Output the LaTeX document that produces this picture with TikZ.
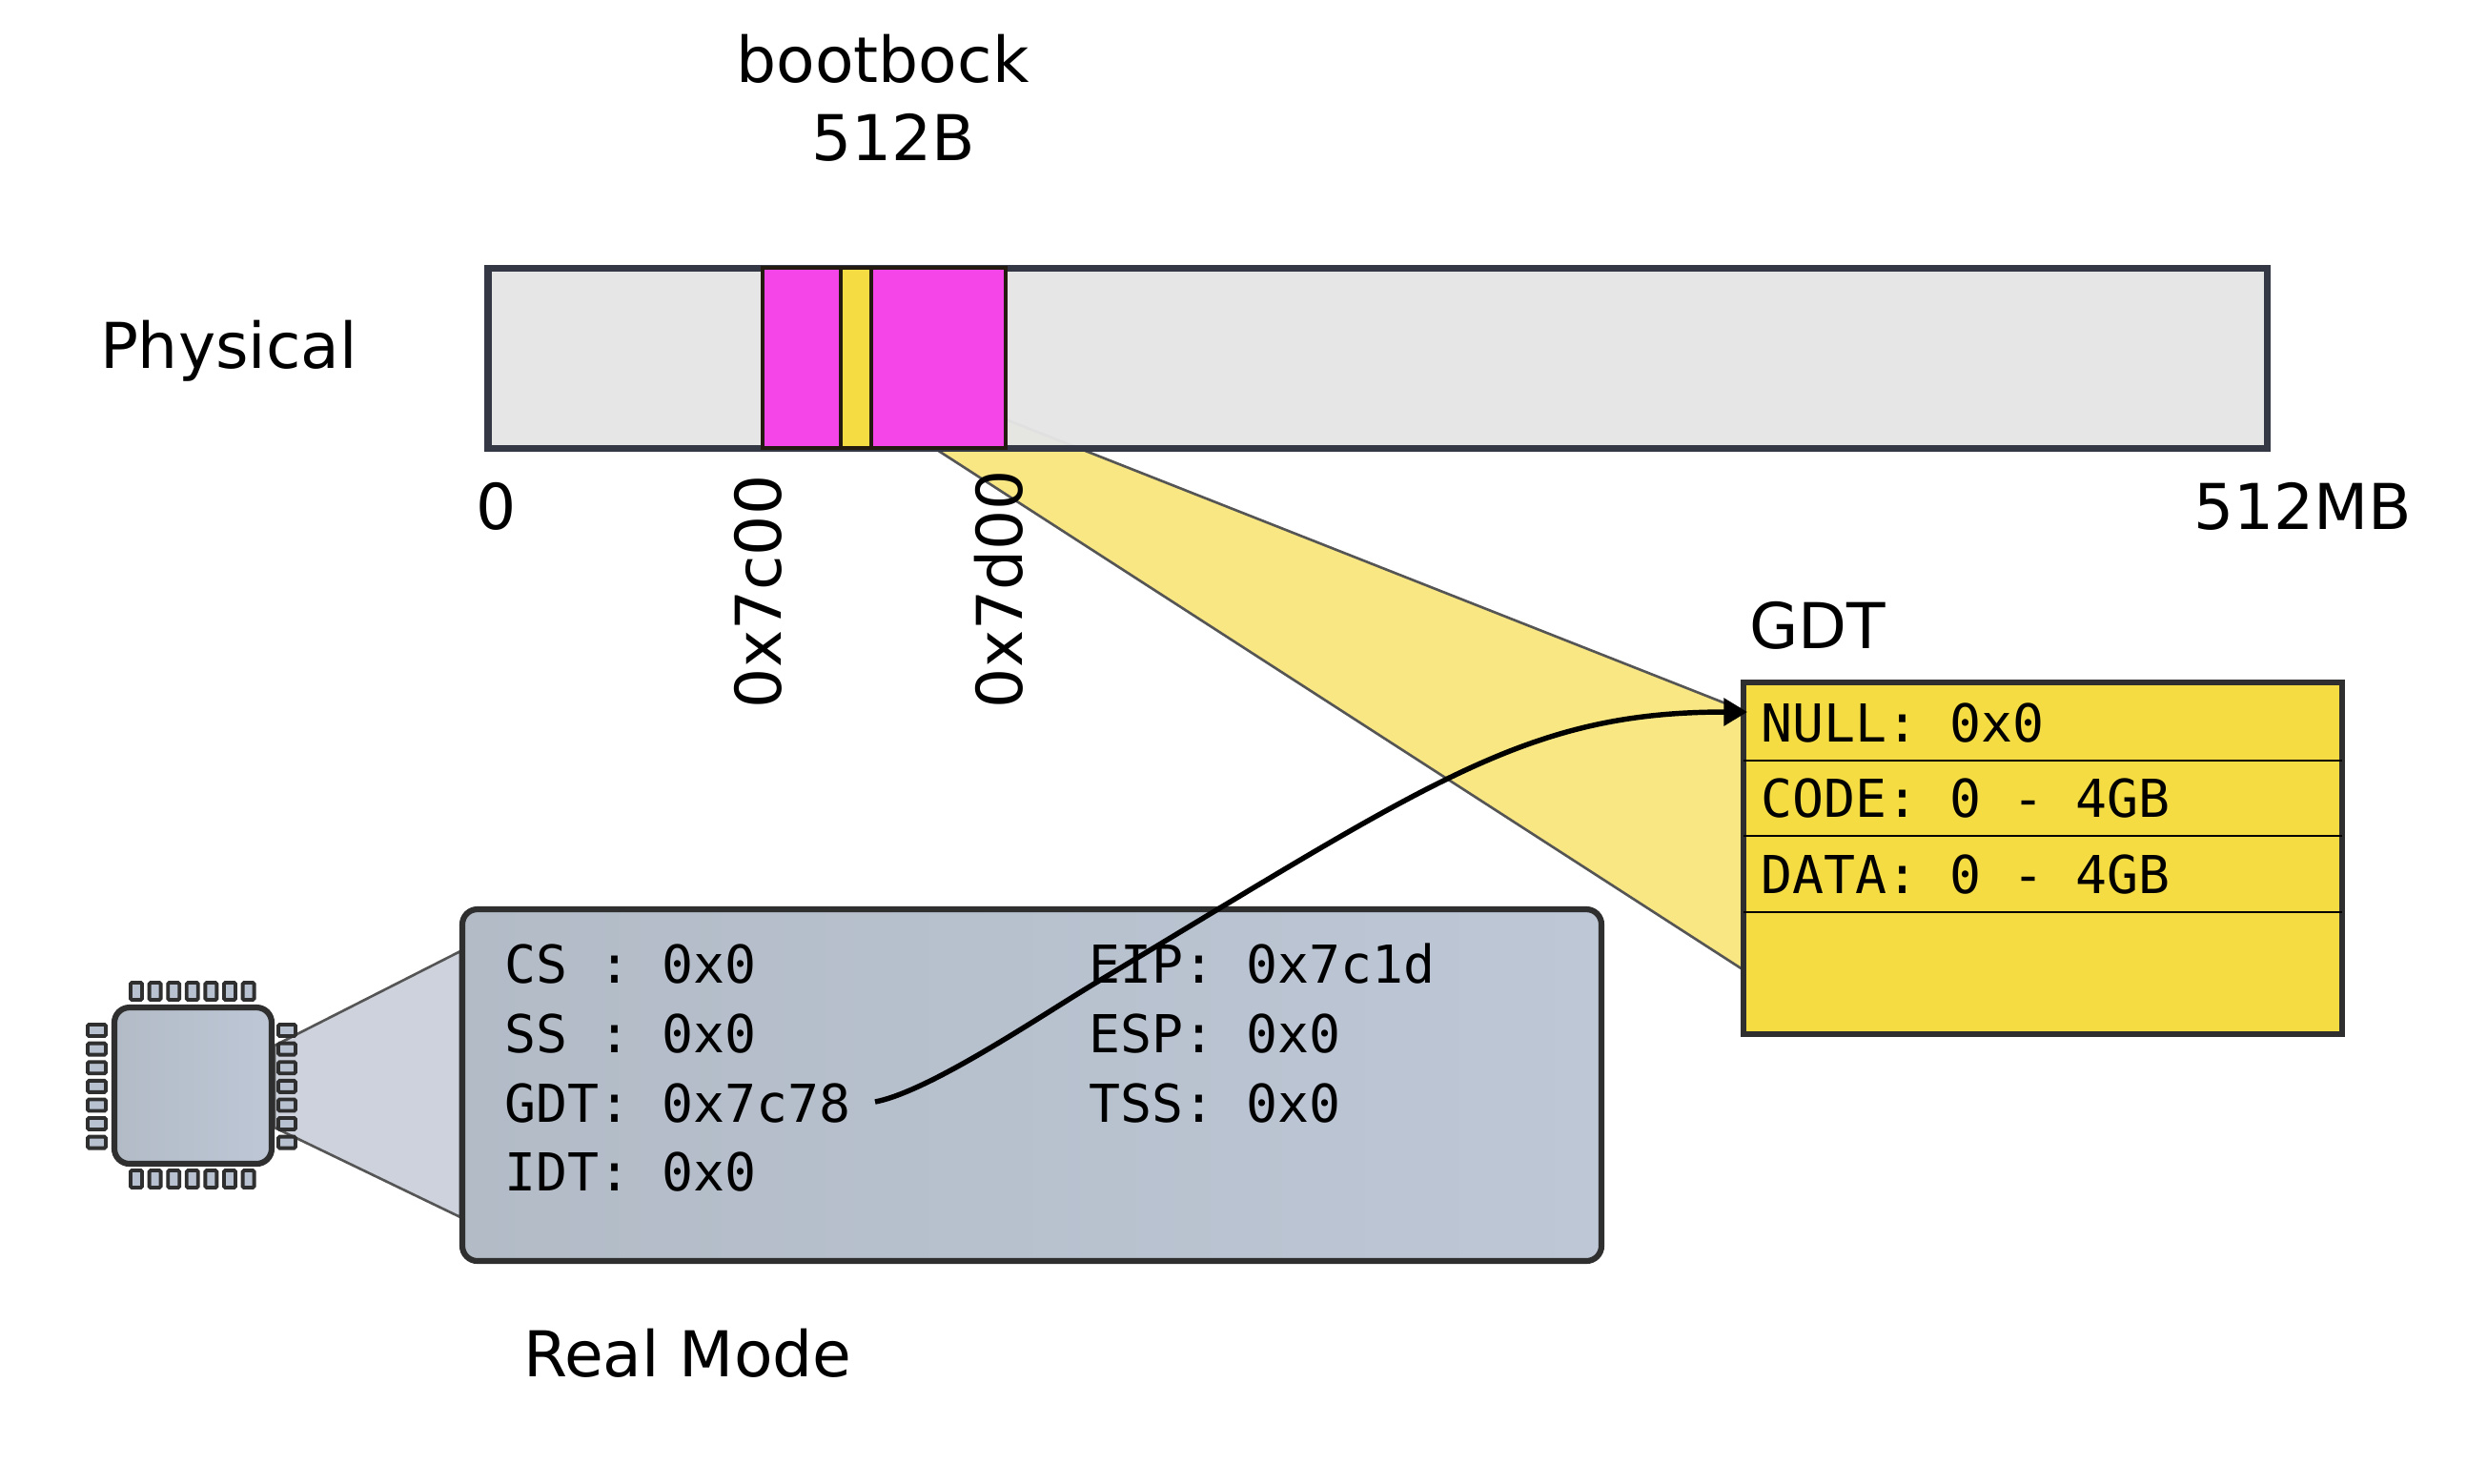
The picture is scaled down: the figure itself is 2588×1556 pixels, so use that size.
\documentclass[tikz,border=0pt]{standalone}
\usepackage{fontspec}
\setmainfont{DejaVu Sans}
\newfontfamily\regfont{DejaVu Sans Mono}
\usetikzlibrary{arrows.meta}
\tikzset{
  lbl/.style={inner sep=0,outer sep=0,anchor=base west,font=\fontsize{18.85}{22}\selectfont,text=black},
  mono/.style={inner sep=0,outer sep=0,anchor=base west,font=\regfont\fontsize{15.6}{19}\selectfont,text=black},
  frame/.style={draw=framedark,line width=1.75pt},
  pin/.style={draw=framedark,fill=chipfill,line width=1.1pt,rounded corners=0.4pt},
  beam/.style={draw=beamline,line width=0.75pt},
  seg/.style={draw=segline,line width=1pt},
  row/.style={draw=black,line width=0.8pt},
}
\definecolor{framedark}{HTML}{2F2F2F}
\definecolor{bardark}{HTML}{333844}
\definecolor{chipfill}{HTML}{B8C1CF}
\definecolor{beamline}{HTML}{555555}
\definecolor{segline}{HTML}{231A10}
\definecolor{pinkfill}{HTML}{F545E8}
\definecolor{yellowfill}{HTML}{F4DC42}
\definecolor{beamyellow}{HTML}{F8E782}
\definecolor{beamgrey}{HTML}{CDD2DC}
\definecolor{barfill}{HTML}{E5E5E5}
\definecolor{regleft}{HTML}{B2BBC6}
\definecolor{regright}{HTML}{BDC7D6}
\begin{document}
\begin{tikzpicture}[x=0.01cm,y=-0.01cm]
\useasboundingbox (0,0) rectangle (2588,1556);
% yellow projection, under the bar
\path[fill=beamyellow] (933,440) -- (1055,440) -- (1828,745) -- (1828,1017) -- cycle;
\draw[beam] (1055,440) -- (1828,745);
\draw[beam] (983,472) -- (1828,1017);
% bar
\path[fill=barfill,fill opacity=0.97] (512,281) rectangle (2378,470);
\draw[draw=bardark,line width=2pt] (512,281) rectangle (2378,470);
\draw[seg,fill=pinkfill] (800,281) rectangle (882,470);
\draw[seg,fill=yellowfill] (882,281) rectangle (914,470);
\draw[seg,fill=pinkfill] (914,281) rectangle (1055,470);
% labels
\node[lbl,anchor=base] (boot) at (926,86) {bootbock};
\node[lbl,anchor=base] (size) at (937,168) {512B};
\node[lbl] (phys) at (105,386) {Physical};
\node[lbl] (zero) at (499,555) {0};
\node[lbl] (top) at (2301,555) {512MB};
\node[lbl,rotate=90] (a) at (819,743) {0x7c00};
\node[lbl,rotate=90] (b) at (1072,743) {0x7d00};
% GDT
\node[lbl] (gdtlabel) at (1835,680) {GDT};
\draw[frame,fill=yellowfill] (1829,716) rectangle (2457,1085);
\draw[row] (1829,798) -- (2457,798);
\draw[row] (1829,877) -- (2457,877);
\draw[row] (1829,957) -- (2457,957);
\node[mono] (g1) at (1847,778) {NULL: 0x0};
\node[mono] (g2) at (1847,857) {CODE: 0 - 4GB};
\node[mono] (g3) at (1847,937) {DATA: 0 - 4GB};
% grey beam
\draw[beam,fill=beamgrey] (288,1097) -- (483,998) -- (483,1277) -- (288,1183) -- cycle;
% chip
\shadedraw[frame,left color=regleft,right color=regright,rounded corners=4.5pt] (120,1057) rectangle (285,1221);
\foreach \i in {0,...,6}{
  \pgfmathsetmacro{\p}{\i*19.6}
  \draw[pin] ({137+\p},1031) rectangle ({149+\p},1049);
  \draw[pin] ({137+\p},1228) rectangle ({149+\p},1246);
  \draw[pin] (92,{1075+\p}) rectangle (111,{1087+\p});
  \draw[pin] (292,{1075+\p}) rectangle (310,{1087+\p});
}
% registers
\shadedraw[frame,left color=regleft,right color=regright,rounded corners=4.5pt] (485,954) rectangle (1680,1323);
\node[mono] (r1) at (529,1031) {CS : 0x0};
\node[mono] (r2) at (529,1104) {SS : 0x0};
\node[mono] (r3) at (529,1177) {GDT: 0x7c78};
\node[mono] (r4) at (529,1249) {IDT: 0x0};
\node[mono] (r5) at (1142,1031) {EIP: 0x7c1d};
\node[mono] (r6) at (1142,1104) {ESP: 0x0};
\node[mono] (r7) at (1142,1177) {TSS: 0x0};
\node[lbl] (mode) at (549,1444) {Real Mode};
% connector
\coordinate (cstart) at (918,1156);
\coordinate (cmid) at (1148,1032);
\coordinate (cend) at (1833,747);
\draw[line width=1.55pt,-{Stealth[length=7pt,width=8pt,inset=0pt]}] (cstart) .. controls (975,1145) and (1090,1067) .. (cmid) .. controls (1500,821) and (1600,747) .. (cend);
\end{tikzpicture}
\end{document}
